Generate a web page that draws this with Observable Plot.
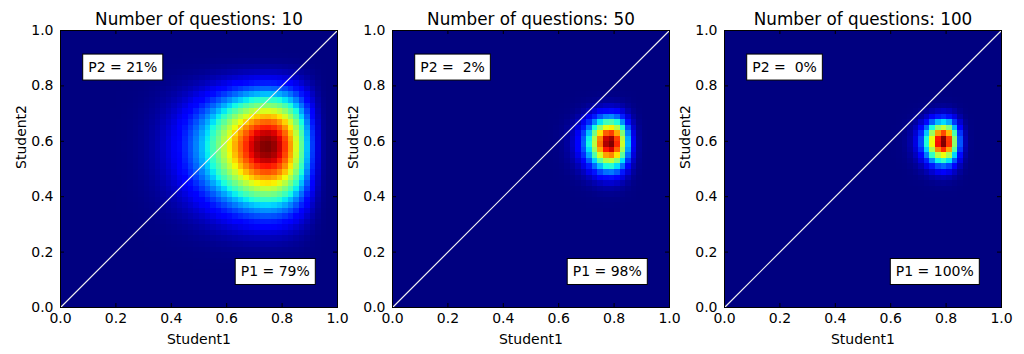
<!DOCTYPE html>
<html><head><meta charset="utf-8">
<script src="https://cdn.jsdelivr.net/npm/d3@7"></script>
<script src="https://cdn.jsdelivr.net/npm/@observablehq/plot@0.6"></script>
<style>
html,body{margin:0;padding:0;background:#fff;}
#wrap{position:relative;width:1024px;height:354px;overflow:hidden;}
#wrap svg{position:absolute;top:0;overflow:visible;background:transparent;}
</style></head><body><div id="wrap"></div>
<script>
// ---- data ----
const questions = [10, 50, 100];
const peakStudent1 = [0.745, 0.785, 0.789];
const peakStudent2 = [0.58, 0.595, 0.599];
// spread of each peak, measured in log-odds units
const spreadStudent1 = [0.67, 0.284, 0.234];
const spreadStudent2 = [0.58, 0.253, 0.208];
const p1Labels = ["P1 = 79%", "P1 = 98%", "P1 = 100%"];
const p2Labels = ["P2 = 21%", "P2 =  2%", "P2 =  0%"];
const gridSize = 50;
const ticks = [0, 0.2, 0.4, 0.6, 0.8, 1.0];
const diagonal = [0, 1];
const jetStops = [0, 0.11, 0.125, 0.34, 0.35, 0.375, 0.64, 0.65, 0.66, 0.89, 0.91, 1];
const jetColors = ["#000080", "#0000ff", "#0000ff", "#00dbff", "#00e6f7", "#15ffe2",
                   "#efff08", "#f7f500", "#ffec00", "#ff1300", "#e80000", "#800000"];

const logit = p => Math.log(p / (1 - p));

function buildGrid(k) {
  const cells = [];
  const zx = logit(peakStudent1[k]), zy = logit(peakStudent2[k]);
  for (let j = 0; j < gridSize; j++) {
    for (let i = 0; i < gridSize; i++) {
      const x = (i + 0.5) / gridSize, y = (j + 0.5) / gridSize;
      const gx = Math.exp(-0.5 * ((logit(x) - zx) / spreadStudent1[k]) ** 2);
      const gy = Math.exp(-0.5 * ((logit(y) - zy) / spreadStudent2[k]) ** 2);
      cells.push({x, y, v: gx * gy});
    }
  }
  const m = d3.max(cells, d => d.v);
  cells.forEach(d => d.v /= m);
  return cells;
}

// measure text for the boxed labels
const ctx = document.createElement("canvas").getContext("2d");
ctx.font = "14px 'DejaVu Sans'";

function boxedText(data, options) {
  return Plot.text(data, {
    ...options,
    render(index, scales, values, dimensions, context, next) {
      const g = next(index, scales, values, dimensions, context);
      const ns = "http://www.w3.org/2000/svg";
      for (const t of Array.from(g.querySelectorAll("text"))) {
        t.setAttribute("xml:space", "preserve");
        t.style.whiteSpace = "pre";
      }
      for (const i of index) {
        const X = values.x[i], Y = values.y[i];
        const w = ctx.measureText(String(values.text[i])).width;
        const padX = 5.5;
        const x0 = options.textAnchor === "end" ? X - w - padX : X - padX;
        const r = document.createElementNS(ns, "rect");
        r.setAttribute("x", x0);
        r.setAttribute("y", Y - 13);
        r.setAttribute("width", w + 2 * padX);
        r.setAttribute("height", 26);
        r.setAttribute("fill", "white");
        r.setAttribute("stroke", "black");
        r.setAttribute("stroke-width", 1);
        g.insertBefore(r, g.firstChild);
      }
      return g;
    }
  });
}

const wrap = document.getElementById("wrap");
const panelLefts = [0, 332, 664];
const fmt = d3.format(".1f");

questions.forEach((q, k) => {
  const cells = buildGrid(k);
  const svg = Plot.plot({
    width: 347, height: 354,
    marginLeft: 60, marginRight: 10, marginTop: 30, marginBottom: 47,
    style: {fontFamily: "DejaVu Sans", fontSize: "14px", background: "transparent", overflow: "visible"},
    x: {domain: [0, 1]},
    y: {domain: [0, 1]},
    color: {type: "linear", domain: jetStops, range: jetColors, interpolate: "rgb", clamp: true},
    marks: [
      Plot.raster(cells, {x: "x", y: "y", fill: "v", width: gridSize, height: gridSize,
        x1: 0, x2: 1, y1: 0, y2: 1, imageRendering: "pixelated"}),
      Plot.line(diagonal, {x: d => d, y: d => d, stroke: "#f0f0f0", strokeWidth: 1.2}),
      Plot.tickX(ticks, {x: d => d, insetTop: 273, stroke: "black"}),
      Plot.tickX(ticks, {x: d => d, insetBottom: 273, stroke: "black"}),
      Plot.tickY(ticks, {y: d => d, insetRight: 273, stroke: "black"}),
      Plot.tickY(ticks, {y: d => d, insetLeft: 273, stroke: "black"}),
      Plot.frame({stroke: "black", strokeWidth: 1}),
      Plot.axisX(ticks, {tickSize: 0, tickPadding: 6, tickFormat: fmt, label: null}),
      Plot.axisY(ticks, {tickSize: 0, tickPadding: 7, tickFormat: fmt, label: null}),
      Plot.text([`Number of questions: ${q}`], {text: d => d, frameAnchor: "top", lineAnchor: "middle", dy: -10.5, fontSize: 16.8}),
      Plot.text(["Student1"], {text: d => d, frameAnchor: "bottom", lineAnchor: "top", dy: 27}),
      Plot.text(["Student2"], {text: d => d, frameAnchor: "left", lineAnchor: "middle", rotate: -90, dx: -38.5}),
      boxedText([p2Labels[k]], {text: d => d, x: 0.1, y: 0.868, textAnchor: "start", lineAnchor: "middle"}),
      boxedText([p1Labels[k]], {text: d => d, x: 0.9, y: 0.13, textAnchor: "end", lineAnchor: "middle"})
    ]
  });
  svg.style.left = panelLefts[k] + "px";
  wrap.appendChild(svg);
});
</script></body></html>
